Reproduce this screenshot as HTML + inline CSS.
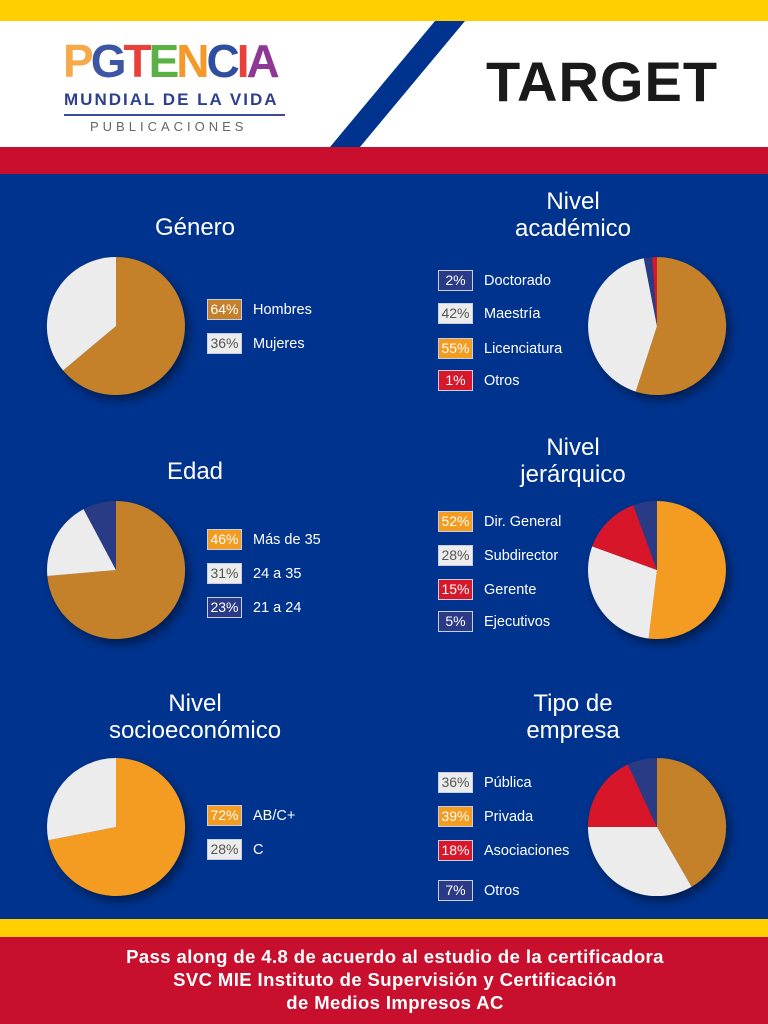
<!DOCTYPE html>
<html><head><meta charset="utf-8"><style>
body{margin:0;width:768px;height:1024px;position:relative;overflow:hidden;font-family:"Liberation Sans",sans-serif;background:#00338e}
.a{position:absolute}
.t{position:absolute;color:#fff;font-size:24px;text-align:center;line-height:27px;width:300px}
.box{position:absolute;width:33px;height:19px;border:1px solid #c8cde0;color:#fff;font-size:14px;line-height:19px;text-align:center}
.lb{position:absolute;color:#fff;font-size:14.5px;line-height:21px}
</style></head><body>
<div class="a" style="left:0;top:0;width:768px;height:21px;background:#ffcf00"></div>
<div class="a" style="left:0;top:21px;width:768px;height:126px;background:#fff"></div>
<svg class="a" style="left:0;top:21px" width="768" height="126"><polygon points="435,0 465,0 360,126 330,126" fill="#00338e"/></svg>
<div class="a" style="left:0;top:147px;width:768px;height:27px;background:#c8102e"></div>
<div class="a" style="left:486px;top:49px;font-size:56px;font-weight:bold;color:#1a1a1a;letter-spacing:1px">TARGET</div>
<div class="a" style="left:63px;top:38px;font-size:46px;font-weight:bold;letter-spacing:-3px;line-height:46px"><span style="color:#f6a94a">P</span><span style="color:#3c55a5">G</span><span style="color:#e8413c">T</span><span style="color:#5bb046">E</span><span style="color:#f39a2b">N</span><span style="color:#2e4fa0">C</span><span style="color:#e8413c">I</span><span style="color:#8e3795">A</span></div>
<div class="a" style="left:64px;top:90px;font-size:17px;font-weight:bold;color:#2e3f8f;letter-spacing:2px">MUNDIAL DE LA VIDA</div>
<div class="a" style="left:64px;top:114px;width:221px;height:2px;background:#3a4b9b"></div>
<div class="a" style="left:90px;top:119px;font-size:13px;color:#666;letter-spacing:4px">PUBLICACIONES</div>

<div class="a" style="left:0;top:919px;width:768px;height:18px;background:#ffcf00"></div>
<div class="a" style="left:0;top:937px;width:768px;height:87px;background:#c8102e"></div>
<div class="a" style="left:0;top:945px;width:790px;text-align:center;color:#fff;font-weight:bold;font-size:18.5px;line-height:23px;letter-spacing:0.4px">Pass along de 4.8 de acuerdo al estudio de la certificadora<br>SVC MIE Instituto de Supervisión y Certificación<br>de Medios Impresos AC</div>

<div class="t" style="left:45px;top:214px">Género</div>
<div class="t" style="left:423px;top:188px">Nivel<br>académico</div>
<div class="t" style="left:45px;top:458px">Edad</div>
<div class="t" style="left:423px;top:434px">Nivel<br>jerárquico</div>
<div class="t" style="left:45px;top:690px">Nivel<br>socioeconómico</div>
<div class="t" style="left:423px;top:690px">Tipo de<br>empresa</div>

<svg id="s" class="a" style="left:0;top:0" width="768" height="1024">
<defs><filter id="sh" x="-30%" y="-30%" width="160%" height="160%"><feDropShadow dx="4" dy="5" stdDeviation="5" flood-color="#000" flood-opacity="0.45"/></filter></defs>
</svg>

<div id="L"></div>
<script>
var C={b:"#c4812c",w:"#ececec",o:"#f49c20",r:"#d7182a",n:"#2b3a86"};
var pies=[[116,326,[["b",230],["w",360]]],[657,326,[["b",198],["w",349],["n",356],["r",360]]],
[116,570,[["b",265],["w",332],["n",360]]],[657,570,[["o",187],["w",290],["r",340],["n",360]]],
[116,827,[["o",259],["w",360]]],[657,827,[["b",150],["w",270],["r",335],["n",360]]]];
var s=document.getElementById('s'),h='',R=69;
function p(cx,cy,a){a=(a-90)*Math.PI/180;return (cx+R*Math.cos(a)).toFixed(1)+","+(cy+R*Math.sin(a)).toFixed(1);}
pies.forEach(function(q){var cx=q[0],cy=q[1],st=0;h+='<g filter="url(#sh)">';
q[2].forEach(function(g){var e=g[1];h+='<path d="M'+cx+','+cy+' L'+p(cx,cy,st)+' A'+R+','+R+' 0 '+((e-st)>180?1:0)+' 1 '+p(cx,cy,e)+' Z" fill="'+C[g[0]]+'"/>';st=e;});h+='</g>';});
s.innerHTML+=h;
var L=[[207,299,"b","64%","Hombres"],[207,333,"w","36%","Mujeres"],
[438,270,"n","2%","Doctorado"],[438,303,"w","42%","Maestría"],[438,338,"o","55%","Licenciatura"],[438,370,"r","1%","Otros"],
[207,529,"o","46%","Más de 35"],[207,563,"w","31%","24 a 35"],[207,597,"n","23%","21 a 24"],
[438,511,"o","52%","Dir. General"],[438,545,"w","28%","Subdirector"],[438,579,"r","15%","Gerente"],[438,611,"n","5%","Ejecutivos"],
[207,805,"o","72%","AB/C+"],[207,839,"w","28%","C"],
[438,772,"w","36%","Pública"],[438,806,"o","39%","Privada"],[438,840,"r","18%","Asociaciones"],[438,880,"n","7%","Otros"]];
var o='';L.forEach(function(l){o+='<div class="box" style="left:'+l[0]+'px;top:'+l[1]+'px;background:'+C[l[2]]+';color:'+(l[2]=="w"?"#555":"#fff")+'">'+l[3]+'</div><div class="lb" style="left:'+(l[0]+46)+'px;top:'+(l[1]+1)+'px">'+l[4]+'</div>';});
document.getElementById('L').innerHTML=o;
</script>
</body></html>
